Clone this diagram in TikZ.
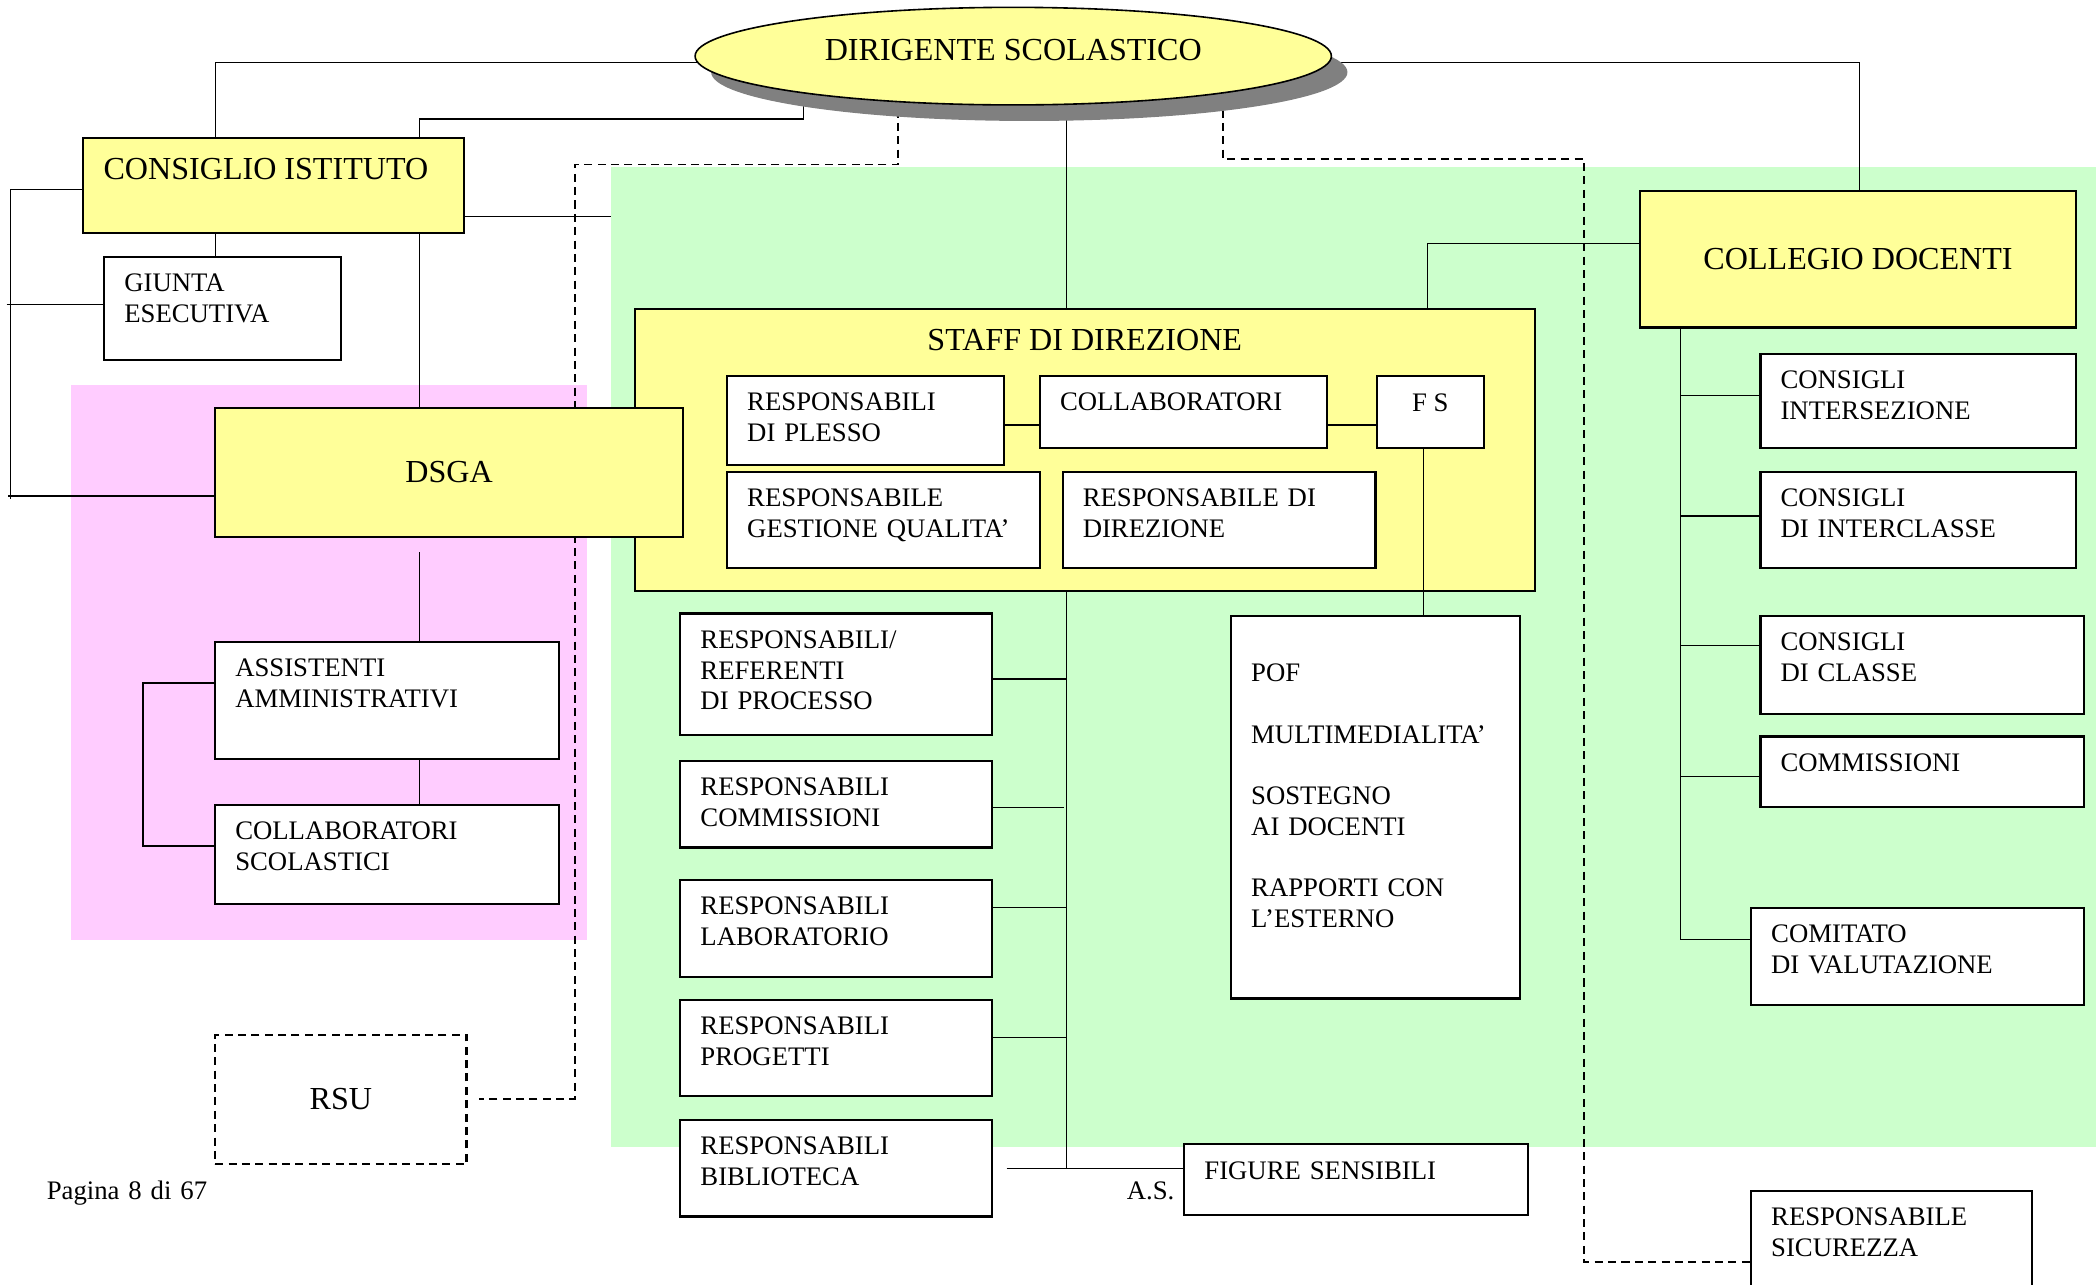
\documentclass[tikz,border=0pt]{standalone}
\usepackage{fontspec}
\setmainfont{Liberation Serif}
\usetikzlibrary{calc,shapes.geometric}
\definecolor{yel}{HTML}{FFFF99}
\definecolor{grn}{HTML}{CCFFCC}
\definecolor{pnk}{HTML}{FFCCFF}
\definecolor{shd}{HTML}{808080}
\pgfdeclarelayer{panels}
\pgfdeclarelayer{lines}
\pgfsetlayers{panels,lines,main}
\tikzset{
  box/.style={draw, line width=0.8pt, fill=white, inner sep=0pt, outer sep=0pt, rectangle},
  ybox/.style={box, fill=yel},
  dbox/.style={box, dash pattern=on 3pt off 2pt},
  txt/.style={inner sep=0pt, outer sep=0pt, text width=300pt, align=left, font=\fontsize{10}{11.5}\selectfont},
  big/.style={inner sep=0pt, outer sep=0pt, font=\fontsize{12}{14}\selectfont},
  con/.style={draw, line width=0.5pt},
  dsh/.style={draw, line width=0.6pt, dash pattern=on 3pt off 2pt},
}
\newcommand\bx[7][]{%
  \pgfmathsetmacro\myW{(#5-#3)*0.5}%
  \pgfmathsetmacro\myH{(#6-#4)*0.5}%
  \node[box,minimum width=\myW pt,minimum height=\myH pt,#1] (#2) at ({(#3+#5)/2},{(#4+#6)/2}) {};%
  \node[txt,anchor=base west] (#2-t) at ($(#2.north west)+(15,26)$) {#7};%
}
\begin{document}
\begin{tikzpicture}[x=0.5pt,y=-0.5pt]
\useasboundingbox (0,0) rectangle (1568,961);
\begin{pgfonlayer}{panels}
  \fill[grn] (457,125) rectangle (1568,858);
  \fill[pnk] (53,288) rectangle (439,703);
\end{pgfonlayer}

% Dirigente
\fill[shd] (770,54) ellipse [x radius=238, y radius=36.5];
\node[ellipse, draw, line width=0.6pt, fill=yel, minimum width=238pt, minimum height=36.5pt, inner sep=0pt] (ds) at (758,42) {};
\node[big, anchor=base] (dst) at (758,45) {DIRIGENTE SCOLASTICO};

% Consiglio istituto
\bx[ybox]{ci}{62}{103}{347}{174}{}
\node[big, anchor=base west] (cit) at ($(ci.north west)+(15.5,31)$) {CONSIGLIO ISTITUTO};
\bx{giunta}{78}{192}{255}{269}{GIUNTA\\ESECUTIVA}

% Staff
\bx[ybox]{staff}{475}{231}{1148}{442}{}
\node[big, anchor=base] (stafft) at ($(staff.north)+(0,31)$) {STAFF DI DIREZIONE};
\bx{plesso}{544}{281}{751}{348}{RESPONSABILI\\DI PLESSO}
\bx{collab}{778}{281}{993}{335}{COLLABORATORI}
\bx{fs}{1030}{281}{1110}{335}{}
\node[txt, text width=, anchor=base, font=\fontsize{10}{11.5}\selectfont] (fst) at ($(fs.north)+(0,27)$) {F S};
\bx{qual}{544}{353}{778}{425}{RESPONSABILE\\GESTIONE QUALITA’}
\bx{dir}{795}{353}{1029}{425}{RESPONSABILE DI\\DIREZIONE}
\bx{pof}{921}{461}{1137}{747}{\mbox{}\\POF\\\mbox{}\\MULTIMEDIALITA’\\\mbox{}\\SOSTEGNO\\AI DOCENTI\\\mbox{}\\RAPPORTI CON\\L’ESTERNO}
\draw[con] (plesso.east |- 0,318) -- (collab.west |- 0,318);
\draw[con] (collab.east |- 0,318) -- (fs.west |- 0,318);
\draw[con] (fs.south -| 1065,0) -- (pof.north -| 1065,0);

% DSGA area
\bx[ybox]{dsga}{161}{305}{511}{402}{}
\node[big] (dsgat) at (dsga.center) {DSGA};
\bx{assist}{161}{480}{418}{568}{ASSISTENTI\\AMMINISTRATIVI}
\bx{colsc}{161}{602}{418}{676}{COLLABORATORI\\SCOLASTICI}
\bx[dbox]{rsu}{161}{774}{349}{871}{}
\node[big] (rsut) at (rsu.center) {RSU};

% Collegio docenti
\bx[ybox]{collegio}{1227}{143}{1553}{245}{}
\node[big] (collegiot) at (collegio.center) {COLLEGIO DOCENTI};
\bx{cint}{1317}{265}{1553}{335}{CONSIGLI\\INTERSEZIONE}
\bx{cinter}{1317}{353}{1553}{425}{CONSIGLI\\DI INTERCLASSE}
\bx{cclas}{1317}{461}{1559}{534}{CONSIGLI\\DI CLASSE}
\bx{ccomm}{1317}{551}{1559}{604}{COMMISSIONI}
\bx{cval}{1310}{679}{1559}{752}{COMITATO\\DI VALUTAZIONE}

% Responsabili column
\bx{ref}{509}{459}{742}{550}{RESPONSABILI/\\REFERENTI\\DI PROCESSO}
\bx{comm}{509}{569}{742}{634}{RESPONSABILI\\COMMISSIONI}
\bx{lab}{509}{658}{742}{731}{RESPONSABILI\\LABORATORIO}
\bx{prog}{509}{748}{742}{820}{RESPONSABILI\\PROGETTI}
\bx{bib}{509}{838}{742}{910}{RESPONSABILI\\BIBLIOTECA}

% footer texts
\node[txt, anchor=base west] (as) at (843,897) {A.S. 2};
\bx{fig}{886}{856}{1143}{909}{FIGURE SENSIBILI}
\bx{sic}{1310}{891}{1520}{975}{RESPONSABILE\\SICUREZZA}
\node[txt, anchor=base west] (pag) at (35,897) {Pagina 8 di 67};

\begin{pgfonlayer}{lines}
  \draw[con] ($(ds.center)+(0,5)$) -| (ci.north -| 161,0);
  \draw[con] (ds.center -| 601,0) |- (314,89) -- (ci.north -| 314,0);
  \draw[con] (ci.south -| 161,0) -- (giunta.north -| 161,0);
  \draw[con] (ci.west |- 0,142) -| (8,373);
  \draw[con] (6,371) -- (dsga.west |- 0,371);
  \draw[con] (5,228) -- (giunta.west |- 0,228);
  \draw[con] (ci.east |- 0,162) -- (457,162);
  \draw[con] (ci.south -| 314,0) -- (dsga.north -| 314,0);
  \draw[con] (314,413) -- (assist.north -| 314,0);
  \draw[con] (assist.south -| 314,0) -- (colsc.north -| 314,0);
  \draw[con] (assist.west |- 0,511) -| (107,633) -- (colsc.west |- 0,633);
  \draw[dsh] (ds.center -| 672,0) |- (430,123) |- (358,822);
  \draw[dsh] (ds.center -| 915,0) |- (1185,119) |- (sic.west |- 0,944);
  \draw[con] ($(ds.center)+(0,5)$) -| (collegio.north -| 1391,0);
  \draw[con] (ds.center -| 798,0) -- (staff.north -| 798,0);
  \draw[con] (collegio.west |- 0,182) -| (staff.north -| 1068,0);
  \draw[con] (staff.south -| 798,0) |- (fig.west |- 0,874);
  \draw[con] (753,874) -- (798,874);
  \draw[con] (ref.east |- 0,508) -- (798,508);
  \draw[con] (comm.east |- 0,604) -- (796,604);
  \draw[con] (lab.east |- 0,679) -- (798,679);
  \draw[con] (prog.east |- 0,776) -- (798,776);
  \draw[con] (collegio.south -| 1257,0) |- (cval.west |- 0,703);
  \foreach \n/\yy in {cint/296, cinter/386, cclas/483, ccomm/581}
    \draw[con] (1257,\yy) -- (\n.west |- 0,\yy);
\end{pgfonlayer}
\end{tikzpicture}
\end{document}
